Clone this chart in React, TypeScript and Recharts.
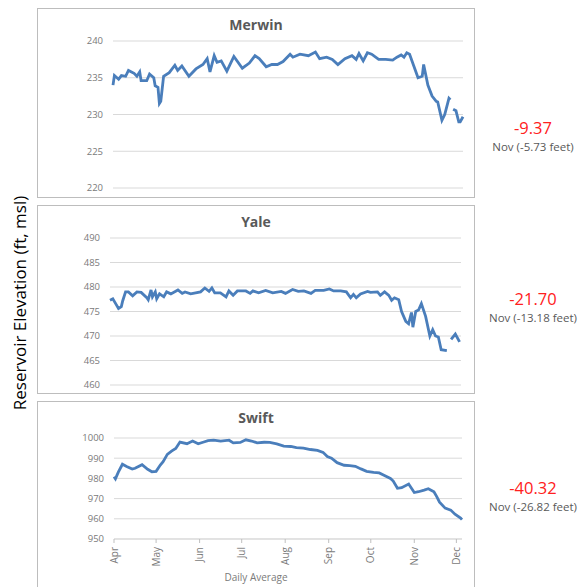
import { LineChart, Line, XAxis, YAxis, CartesianGrid } from 'recharts';

// day 0 = Apr 1
const monthTicks = [0, 30, 61, 91, 122, 153, 183, 214, 244];
const monthLabels = ['Apr', 'May', 'Jun', 'Jul', 'Aug', 'Sep', 'Oct', 'Nov', 'Dec'];

const merwinDay = [0, 1, 4, 6, 9, 11, 15, 17, 19, 20, 24, 26, 29, 30, 32, 33, 34, 36, 40, 44, 46, 49, 54, 59, 64, 67, 69, 72, 74, 77, 81, 86, 92, 97, 101, 104, 109, 113, 117, 121, 126, 128, 133, 139, 144, 147, 152, 156, 160, 165, 170, 173, 175, 178, 181, 184, 189, 194, 199, 202, 205, 207, 209, 211, 214, 217, 220, 221, 224, 227, 230, 231, 234, 236, 239, 240, 241, 242, 244, 246, 247, 249];
const merwinFt = [234.0, 235.3, 234.8, 235.3, 235.2, 236.0, 235.6, 235.2, 235.8, 234.6, 234.6, 235.5, 235.0, 233.9, 233.7, 231.5, 231.8, 235.2, 235.7, 236.7, 236.0, 236.6, 235.2, 236.2, 236.8, 237.6, 235.8, 238.0, 237.1, 237.3, 235.9, 237.9, 236.3, 237.0, 238.0, 237.6, 236.5, 236.8, 236.8, 237.2, 238.2, 237.8, 238.2, 238.0, 238.5, 237.6, 237.8, 237.5, 236.8, 237.6, 238.0, 237.5, 238.3, 237.3, 238.4, 238.2, 237.5, 237.5, 237.4, 237.8, 238.1, 237.8, 238.4, 238.2, 236.6, 235.0, 235.2, 236.8, 234.0, 232.5, 231.8, 231.7, 229.2, 230.0, 232.2, 232.0, null, 230.7, 230.5, 229.0, 229.0, 229.7];

const yaleDay = [0, 2, 4, 6, 8, 9, 11, 13, 16, 19, 22, 26, 27, 29, 30, 32, 33, 35, 38, 40, 43, 48, 51, 53, 57, 64, 67, 70, 72, 74, 78, 82, 84, 87, 90, 96, 99, 101, 105, 110, 115, 121, 124, 129, 133, 137, 142, 145, 151, 155, 158, 163, 167, 170, 172, 174, 177, 182, 184, 189, 191, 194, 197, 199, 201, 204, 206, 209, 211, 213, 214, 216, 218, 220, 223, 226, 228, 230, 232, 234, 238, 239, 241, 244, 247];
const yaleFt = [477.3, 477.6, 476.6, 475.6, 476.0, 477.2, 479.0, 479.0, 478.2, 479.0, 478.9, 477.8, 477.4, 479.4, 478.0, 479.0, 477.6, 478.6, 478.0, 479.0, 478.6, 479.4, 478.7, 479.0, 478.6, 479.0, 479.8, 479.1, 479.8, 478.8, 478.8, 478.0, 479.2, 478.3, 479.2, 479.2, 478.7, 479.2, 478.8, 479.3, 478.8, 479.1, 478.7, 479.5, 479.1, 479.2, 478.7, 479.3, 479.3, 479.6, 479.2, 479.2, 479.0, 477.8, 478.5, 477.8, 478.6, 479.1, 478.9, 479.0, 478.3, 479.0, 478.3, 477.3, 477.8, 477.4, 475.0, 473.0, 472.5, 474.8, 471.8, 475.0, 475.3, 476.6, 474.0, 470.0, 471.3, 470.0, 469.8, 467.2, 467.0, null, 469.3, 470.4, 468.8];

const swiftDay = [0, 1, 3, 6, 9, 13, 15, 20, 24, 27, 30, 33, 35, 38, 41, 44, 47, 52, 56, 60, 64, 67, 71, 76, 82, 85, 90, 94, 98, 102, 107, 111, 116, 121, 126, 130, 135, 140, 145, 149, 152, 155, 159, 164, 168, 172, 176, 180, 185, 189, 192, 197, 199, 202, 205, 210, 214, 217, 221, 224, 228, 230, 232, 236, 240, 243, 247, 248];
const swiftFt = [980.8, 979.8, 983.0, 987.0, 985.9, 984.6, 985.0, 986.8, 984.5, 983.3, 983.5, 986.6, 988.3, 991.9, 993.5, 994.8, 998.0, 997.2, 998.5, 997.1, 998.0, 998.7, 998.9, 998.5, 998.9, 997.6, 997.8, 999.1, 998.5, 997.6, 997.9, 997.8, 997.1, 996.0, 995.8, 995.2, 995.0, 994.3, 993.9, 992.9, 990.8, 990.0, 987.8, 986.5, 986.3, 986.0, 984.7, 983.5, 983.0, 982.7, 981.7, 980.0, 978.7, 975.1, 975.4, 977.2, 973.0, 973.4, 974.2, 974.9, 973.4, 971.0, 968.2, 965.3, 964.3, 962.3, 960.4, 959.6];

const changeFt = ['-9.37', '-21.70', '-40.32'];
const novChange = ['Nov (-5.73 feet)', 'Nov (-13.18 feet)', 'Nov (-26.82 feet)'];

const toRows = (days: number[], vals: (number | null)[]) => days.map((d, i) => ({ day: d, ft: vals[i] }));

const FONT = '"Open Sans", sans-serif';
const BLUE = '#4a7ebb';

const MonthTick = (props: any) => {
  const { x, y, payload } = props;
  const i = monthTicks.indexOf(payload.value);
  return (
    <g transform={`translate(${x},${y})`}>
      <text transform="rotate(-90)" textAnchor="end" dy="0.35em" fontSize={10} fill="#7a7a7a" fontFamily={FONT}>
        {monthLabels[i]}
      </text>
    </g>
  );
};

type PanelProps = {
  title: string;
  top: number;
  height: number;
  rows: { day: number; ft: number | null }[];
  yDomain: [number, number];
  yTicks: number[];
  margin: { top: number; right: number; bottom: number; left: number };
  xMax: number;
  showX?: boolean;
};

function Panel({ title, top, height, rows, yDomain, yTicks, margin, xMax, showX }: PanelProps) {
  return (
    <>
      <div style={{ position: 'absolute', left: 37, top, width: 438, height, border: '1px solid #bdbdbd', boxSizing: 'border-box' }} />
      <div style={{ position: 'absolute', left: 37, top: top + 7, width: 438, textAlign: 'center', fontFamily: FONT, fontWeight: 700, fontSize: 14, color: '#595959' }}>
        {title}
      </div>
      <div style={{ position: 'absolute', left: 37, top }}>
        <LineChart width={438} height={height} data={rows} margin={{ top: margin.top, right: margin.right, bottom: margin.bottom, left: 0 }}>
          <CartesianGrid vertical={false} stroke="#d9d9d9" />
          <XAxis
            dataKey="day"
            type="number"
            domain={[0, xMax]}
            ticks={monthTicks}
            hide={!showX}
            height={30}
            interval={0}
            stroke="#d9d9d9"
            tickLine={{ stroke: '#bfbfbf' }}
            tickSize={4}
            tickMargin={4}
            tick={<MonthTick />}
          />
          <YAxis
            domain={yDomain}
            ticks={yTicks}
            width={margin.left}
            axisLine={false}
            tickLine={false}
            tickMargin={4}
            interval={0}
            tick={{ fontSize: 9.5, fill: '#7a7a7a', fontFamily: FONT }}
          />
          <Line type="linear" dataKey="ft" stroke={BLUE} strokeWidth={2.8} dot={false} isAnimationActive={false} />
        </LineChart>
      </div>
    </>
  );
}

export default function App() {
  return (
    <div style={{ position: 'absolute', left: 0, top: 0, width: 578, height: 587, background: '#fff', overflow: 'hidden', fontFamily: FONT }}>
      <Panel
        title="Merwin"
        top={8}
        height={190}
        rows={toRows(merwinDay, merwinFt)}
        yDomain={[220, 240]}
        yTicks={[220, 225, 230, 235, 240]}
        margin={{ top: 33, right: 12, bottom: 10, left: 76 }}
        xMax={249}
      />
      <Panel
        title="Yale"
        top={205}
        height={189}
        rows={toRows(yaleDay, yaleFt)}
        yDomain={[460, 490]}
        yTicks={[460, 465, 470, 475, 480, 485, 490]}
        margin={{ top: 33, right: 14, bottom: 9, left: 73 }}
        xMax={248}
      />
      <Panel
        title="Swift"
        top={401}
        height={190}
        rows={toRows(swiftDay, swiftFt)}
        yDomain={[950, 1000]}
        yTicks={[950, 960, 970, 980, 990, 1000]}
        margin={{ top: 37, right: 13, bottom: 22, left: 77 }}
        xMax={248}
        showX
      />
      <div style={{ position: 'absolute', left: 37, top: 570, width: 438, textAlign: 'center', fontSize: 10, color: '#7a7a7a' }}>
        Daily Average
      </div>
      <div
        style={{
          position: 'absolute',
          left: 19,
          top: 303,
          transform: 'translate(-50%, -50%) rotate(-90deg)',
          whiteSpace: 'nowrap',
          fontSize: 17,
          color: '#000',
        }}
      >
        Reservoir Elevation (ft, msl)
      </div>
      {[129, 300, 489].map((y, i) => (
        <div key={i} style={{ position: 'absolute', left: 483, top: y - 12, width: 100, textAlign: 'center', whiteSpace: 'nowrap' }}>
          <div style={{ fontSize: 16.5, color: '#ff2020', lineHeight: '22px' }}>{changeFt[i]}</div>
          <div style={{ fontSize: 11.5, color: '#595959', lineHeight: '16px' }}>{novChange[i]}</div>
        </div>
      ))}
    </div>
  );
}
